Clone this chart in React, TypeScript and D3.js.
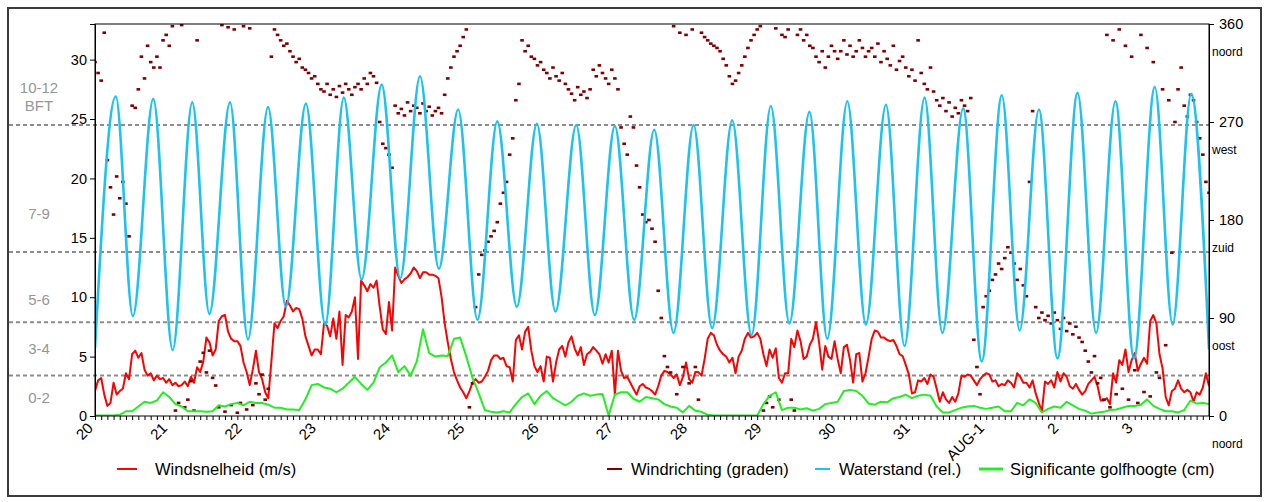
import { useEffect, useRef } from "react"
import * as d3 from "d3"

// hourly wind speed (m/s), 20 Jul 00:00 .. 4 Aug 00:00
const windSpeed = [
  2.1, 3.0, 3.2, 1.8, 0.85, 1.1, 2.8, 1.8, 2.1, 2.3, 3.6, 3.1, 5.2, 5.5, 4.9, 5.3, 3.9, 3.4, 3.6, 3.0, 3.4, 3.1, 3.2, 2.8,
  3.1, 2.6, 2.8, 2.5, 2.6, 2.9, 2.5, 3.3, 2.8, 4.1, 3.7, 4.6, 6.6, 6.2, 5.1, 5.6, 8.0, 8.4, 8.5, 7.1, 6.5, 6.3, 6.3, 5.9,
  4.5, 3.7, 2.6, 3.9, 5.5, 3.7, 3.1, 2.0, 1.5, 4.6, 7.8, 7.4, 8.0, 8.4, 9.7, 9.3, 8.8, 9.1, 9.0, 8.2, 6.7, 5.9, 5.1, 5.6,
  5.6, 5.2, 7.8, 7.6, 6.7, 8.2, 6.5, 8.8, 4.3, 8.5, 8.3, 8.8, 10.0, 4.8, 11.4, 11.0, 10.5, 11.1, 10.8, 11.4, 9.2, 7.3, 6.9, 9.6,
  7.2, 12.5, 11.8, 11.2, 11.5, 11.7, 12.0, 12.5, 12.2, 11.6, 12.1, 12.1, 11.9, 11.9, 11.8, 11.6, 10.0, 7.8, 6.2, 4.8, 3.7, 3.0, 2.4, 2.0,
  1.5, 2.1, 2.8, 3.1, 2.8, 2.9, 3.3, 3.8, 4.7, 5.1, 5.1, 4.8, 4.9, 4.2, 4.1, 2.9, 6.4, 6.8, 5.6, 7.1, 7.5, 5.5, 4.2, 3.7,
  4.2, 2.9, 5.0, 4.9, 2.9, 4.5, 5.6, 5.9, 5.0, 6.2, 6.7, 5.7, 5.1, 5.8, 4.3, 5.2, 5.4, 5.8, 5.5, 5.2, 4.4, 5.2, 4.5, 5.5,
  1.8, 5.5, 3.8, 3.2, 3.3, 2.8, 2.3, 1.8, 2.5, 2.7, 2.4, 2.3, 2.1, 1.8, 2.5, 3.4, 3.8, 3.7, 3.5, 3.2, 3.5, 2.6, 3.3, 4.5,
  3.1, 2.8, 3.7, 3.7, 3.4, 4.8, 6.5, 7.0, 6.8, 6.0, 5.5, 5.2, 5.0, 4.5, 4.9, 3.6, 5.0, 5.5, 6.5, 7.0, 6.6, 6.7, 7.0, 6.5,
  5.2, 4.2, 5.6, 4.9, 5.7, 3.2, 2.8, 3.6, 3.6, 6.5, 5.8, 7.2, 6.3, 4.8, 5.0, 6.0, 6.5, 7.9, 6.2, 3.9, 5.9, 5.0, 4.8, 6.3,
  4.8, 3.6, 5.8, 6.0, 4.7, 2.8, 5.2, 5.3, 2.9, 3.6, 5.0, 6.5, 7.2, 7.1, 6.6, 6.6, 6.4, 6.3, 6.4, 5.9, 5.2, 5.05, 4.3, 3.5,
  1.9, 2.0, 3.0, 2.9, 3.2, 2.7, 3.5, 3.3, 2.3, 1.2, 2.0, 1.4, 1.1, 1.6, 1.2, 1.9, 3.4, 3.3, 3.5, 3.4, 3.0, 2.6, 3.1, 3.4,
  3.6, 3.5, 2.9, 3.0, 2.5, 2.7, 2.6, 3.0, 2.8, 2.4, 3.6, 3.3, 2.8, 2.8, 2.4, 3.0, 1.9, 1.1, 0.4, 2.9, 2.7, 3.0, 2.4, 3.7,
  2.9, 3.6, 3.3, 2.5, 2.3, 2.7, 2.2, 1.8, 2.1, 2.7, 3.0, 3.3, 2.5, 1.3, 1.3, 1.5, 1.0, 3.6, 2.8, 4.7, 4.3, 5.6, 3.7, 4.7,
  5.3, 3.8, 4.4, 4.9, 4.4, 8.0, 8.5, 7.8, 5.2, 4.0, 1.6, 0.9, 2.1, 2.3, 3.0, 2.3, 2.0, 2.2, 2.0, 1.2, 2.0, 1.8, 2.4, 3.6, 2.5,
]

// hourly wind direction (degrees)
const windDir = [
  325, 315, 308, 352, 235, 210, 185, 220, 200, 215, 195, 165, 285, 283, 300, 330, 310, 340, 325, 320, 330, 320, 345, 350,
  340, 358, 5, 12, 359, 8, 15, 32, 5, 345, 50, 58, 40, 60, 35, 28, 8, 359, 4, 357, 10, 355, 3, 12,
  358, 6, 356, 10, 30, 20, 38, 15, 25, 330, 355, 350, 345, 340, 342, 335, 330, 325, 328, 320, 318, 315, 310, 312,
  305, 300, 298, 305, 295, 300, 293, 303, 297, 305, 300, 295, 302, 305, 300, 310, 305, 315, 312, 306, 270, 250, 246, 240,
  228, 285, 278, 282, 276, 288, 280, 285, 283, 278, 287, 280, 284, 276, 280, 283, 278, 295, 310, 320, 330, 335, 340, 348,
  355, 8, 30, 100, 130, 148, 152, 160, 165, 170, 178, 195, 205, 215, 240, 255, 290, 305, 345, 335, 340, 330, 328, 322,
  325, 318, 315, 310, 320, 312, 308, 315, 305, 300, 296, 290, 302, 295, 298, 292, 300, 318, 312, 322, 315, 310, 305, 318,
  310, 300, 265, 250, 240, 275, 265, 230, 210, 185, 178, 180, 172, 160, 115, 90, 55, 45, 40, 358, 20, 352, 45, 350,
  30, 355, 45, 15, 352, 348, 345, 342, 340, 338, 335, 328, 322, 312, 305, 308, 315, 322, 330, 338, 345, 350, 355, 358,
  5, 12, 18, 8, 356, 15, 350, 348, 355, 15, 5, 350, 355, 345, 350, 340, 338, 330, 325, 335, 320, 330, 340, 335,
  328, 335, 345, 332, 340, 330, 335, 345, 338, 330, 335, 338, 330, 342, 325, 335, 328, 322, 340, 318, 326, 330, 320, 312,
  318, 308, 345, 315, 305, 300, 320, 298, 290, 285, 292, 280, 288, 275, 283, 278, 290, 285, 280, 292, 70, 45, 20, 100,
  110, 115, 125, 130, 140, 135, 145, 155, 150, 140, 125, 135, 120, 110, 215, 280, 100, 90, 95, 88, 92, 85, 95, 88,
  80, 90, 78, 85, 75, 82, 72, 68, 60, 50, 40, 55, 30, 35, 15, 350, 8, 345, 20, 355, 25, 340, 15, 330,
  42, 12, 350, 22, 338, 18, 325, 40, 35, 300, 65, 290, 150, 270, 300, 320, 285, 275, 295, 290, 270, 255, 240, 215, 205,
]

// significant wave height, every 2 hours (left axis units)
const waveHeight = [
  0.05, 0.05, 0.05, 0.05, 0.1, 0.4, 0.4, 0.8, 1.2, 1.1, 1.3, 2.0,
  1.6, 1.0, 0.8, 0.4, 0.4, 0.4, 0.35, 0.4, 0.9, 0.8, 1.0, 1.1,
  0.9, 1.2, 1.1, 1.1, 0.95, 0.7, 0.7, 0.55, 0.55, 0.5, 1.4, 2.6,
  2.7, 2.4, 2.3, 2.0, 2.3, 2.8, 3.3, 2.7, 2.2, 2.8, 4.1, 4.5,
  5.1, 3.7, 4.2, 3.4, 4.6, 7.3, 5.3, 5.0, 5.1, 5.05, 6.5, 6.6,
  5.0, 3.2, 1.9, 0.5, 0.35, 0.3, 0.4, 0.3, 1.0, 1.6, 1.9, 1.0,
  1.7, 2.1, 1.5, 1.2, 0.9, 1.2, 1.7, 1.9, 1.7, 1.8, 1.85, 0.05,
  1.8, 2.0, 2.0, 1.45, 1.2, 1.6, 1.5, 1.4, 1.0, 0.8, 0.7, 0.3,
  0.85, 0.45, 0.35, 0.1, 0.05, 0.05, 0.05, 0.05, 0.05, 0.05, 0.05, 0.05,
  1.0, 1.7, 2.0, 0.5, 0.7, 0.7, 0.55, 0.65, 0.45, 0.6, 1.0, 1.1,
  1.2, 2.1, 2.2, 2.1, 1.7, 1.05, 0.95, 1.2, 1.15, 1.5, 1.6, 1.8,
  1.5, 1.7, 1.8, 1.7, 0.8, 0.3, 0.3, 0.5, 0.7, 0.8, 0.85, 0.7,
  0.6, 0.7, 0.8, 0.4, 0.4, 1.1, 0.9, 1.4, 1.1, 0.3, 0.6, 0.8,
  0.7, 1.2, 0.9, 0.6, 0.45, 0.2, 0.3, 0.35, 0.5, 0.55, 0.7, 0.85,
  0.85, 0.95, 1.4, 0.85, 0.6, 0.4, 0.4, 0.3, 0.5, 1.3, 1.05, 1.1, 1.0,
]

// water level: high / low water turning points (days after 20 Jul 00:00, level)
const tideDays = [
  0, 0.28, 0.51, 0.785, 1.046, 1.31, 1.54, 1.818, 2.06, 2.33, 2.57, 2.84, 3.1, 3.35, 3.59, 3.86, 4.11, 4.376, 4.63, 4.89,
  5.15, 5.417, 5.68, 5.95, 6.2, 6.48, 6.73, 7.0, 7.26, 7.53, 7.79, 8.06, 8.31, 8.58, 8.84, 9.1, 9.35, 9.62, 9.86, 10.13,
  10.38, 10.65, 10.9, 11.17, 11.41, 11.69, 11.94, 12.21, 12.45, 12.71, 12.96, 13.23, 13.48, 13.74, 13.99, 14.27, 14.51, 14.76, 15.0,
]
const tideLevels = [
  5.7, 26.9, 8.4, 26.7, 5.55, 26.4, 8.6, 26.4, 6.45, 26.0, 9.2, 26.3, 7.7, 26.8, 11.5, 27.9, 11.6, 28.6, 12.4, 25.8,
  8.1, 24.8, 9.2, 24.6, 8.8, 24.5, 8.5, 24.4, 8.1, 24.1, 7.0, 24.5, 7.4, 24.9, 6.8, 26.1, 7.8, 25.6, 6.5, 26.5,
  7.7, 26.2, 5.9, 26.8, 7.0, 25.9, 4.6, 27.0, 7.2, 25.8, 4.85, 27.2, 7.0, 26.5, 4.85, 27.7, 7.7, 27.1, 5.6,
]

const speedTicks = [0, 5, 10, 15, 20, 25, 30]
const dirTicks = [0, 90, 180, 270, 360]
const compassNames = ["noord", "oost", "zuid", "west", "noord"]
const bftBounds = [3.4, 7.9, 13.8, 24.5]
const bftLabels = ["0-2", "3-4", "5-6", "7-9", "10-12", "BFT"]
const bftLabelSpeeds = [1.5, 5.7, 9.8, 17, 27.6, 26.1]
const augustLabel = "AUG-1"

const legendItems = [
  { name: "Windsnelheid (m/s)", color: "#ff0000" },
  { name: "Windrichting (graden)", color: "#800000" },
  { name: "Waterstand (rel.)", color: "#1cc3f0" },
  { name: "Significante golfhoogte (cm)", color: "#22ee22" },
]

const W = 1269
const H = 502
const FONT = "'Liberation Sans', Arial, sans-serif"

export default function App() {
  const svgRef = useRef<SVGSVGElement>(null)

  useEffect(() => {
    if (!svgRef.current) return
    const root = d3.select(svgRef.current)
    root.selectAll("*").remove()

    const plot = { left: 95, right: 1209, top: 24, bottom: 416 }
    const start = new Date(Date.UTC(2010, 6, 20))
    const end = new Date(Date.UTC(2010, 7, 4))
    const hourDate = (h: number) => new Date(start.getTime() + h * 3600000)

    const x = d3.scaleUtc().domain([start, end]).range([plot.left, plot.right])
    const y = d3.scaleLinear().domain([0, 33]).range([plot.bottom, plot.top])
    const yDir = d3.scaleLinear().domain([0, 360]).range([plot.bottom, plot.top])

    // outer frame
    root
      .append("rect")
      .attr("x", 8)
      .attr("y", 8)
      .attr("width", 1253)
      .attr("height", 488)
      .attr("fill", "#fff")
      .attr("stroke", "#3a3a3a")
      .attr("stroke-width", 2)

    root
      .append("defs")
      .append("clipPath")
      .attr("id", "plotclip")
      .append("rect")
      .attr("x", plot.left)
      .attr("y", plot.top)
      .attr("width", plot.right - plot.left)
      .attr("height", plot.bottom - plot.top)

    // Beaufort boundaries
    root
      .append("g")
      .selectAll("line")
      .data(bftBounds)
      .enter()
      .append("line")
      .attr("x1", 9)
      .attr("x2", plot.right)
      .attr("y1", (d) => y(d))
      .attr("y2", (d) => y(d))
      .attr("stroke", "#8c8c8c")
      .attr("stroke-width", 2)
      .attr("stroke-dasharray", "4,3")

    root
      .append("g")
      .selectAll("text")
      .data(bftLabels)
      .enter()
      .append("text")
      .attr("x", 39)
      .attr("y", (_, i) => y(bftLabelSpeeds[i]))
      .attr("dy", "0.35em")
      .attr("text-anchor", "middle")
      .attr("fill", "#969696")
      .attr("font-family", FONT)
      .attr("font-size", "15px")
      .text((d) => d)

    const data = root.append("g").attr("clip-path", "url(#plotclip)")

    // wind speed
    data
      .append("path")
      .datum(windSpeed)
      .attr("fill", "none")
      .attr("stroke", legendItems[0].color)
      .attr("stroke-width", 2)
      .attr("stroke-linejoin", "round")
      .attr(
        "d",
        d3
          .line<number>()
          .x((_, i) => x(hourDate(i)))
          .y((d) => y(d)),
      )

    // wind direction dots
    data
      .append("g")
      .selectAll("rect")
      .data(windDir)
      .enter()
      .append("rect")
      .attr("x", (_, i) => x(hourDate(i)) - 1.8)
      .attr("y", (d) => yDir(d) - 1.3)
      .attr("width", 3.6)
      .attr("height", 2.6)
      .attr("fill", legendItems[1].color)

    // water level
    data
      .append("path")
      .datum(tideDays)
      .attr("fill", "none")
      .attr("stroke", legendItems[2].color)
      .attr("stroke-width", 2.6)
      .attr(
        "d",
        d3
          .line<number>()
          .x((d) => x(hourDate(d * 24)))
          .y((_, i) => y(tideLevels[i]))
          .curve(d3.curveMonotoneX),
      )

    // wave height
    data
      .append("path")
      .datum(waveHeight)
      .attr("fill", "none")
      .attr("stroke", legendItems[3].color)
      .attr("stroke-width", 2)
      .attr("stroke-linejoin", "round")
      .attr(
        "d",
        d3
          .line<number>()
          .x((_, i) => x(hourDate(i * 2)))
          .y((d) => y(d)),
      )

    // plot frame
    root
      .append("rect")
      .attr("x", plot.left)
      .attr("y", plot.top)
      .attr("width", plot.right - plot.left)
      .attr("height", plot.bottom - plot.top)
      .attr("fill", "none")
      .attr("stroke", "#000")
      .attr("stroke-width", 1)

    // left axis
    const left = root
      .append("g")
      .attr("transform", `translate(${plot.left},0)`)
      .call(d3.axisLeft(y).tickValues(speedTicks).tickSize(5).tickPadding(3))
    left.select(".domain").attr("stroke", "#000")
    left.selectAll("text").attr("font-family", FONT).attr("font-size", "14.5px").attr("fill", "#000")

    // right axis
    const right = root
      .append("g")
      .attr("transform", `translate(${plot.right},0)`)
      .call(d3.axisRight(yDir).tickValues(dirTicks).tickSize(5).tickPadding(5))
    right.selectAll("text").attr("font-family", FONT).attr("font-size", "14.5px").attr("fill", "#000")

    root
      .append("g")
      .selectAll("text")
      .data(compassNames)
      .enter()
      .append("text")
      .attr("x", plot.right + 3)
      .attr("y", (_, i) => yDir(dirTicks[i]) + 28)
      .attr("dy", "0.35em")
      .attr("font-family", FONT)
      .attr("font-size", "12px")
      .attr("fill", "#000")
      .text((d) => d)

    // bottom axis: 2-hour ticks, day labels
    const bottom = root
      .append("g")
      .attr("transform", `translate(0,${plot.bottom})`)
      .call(
        d3
          .axisBottom(x)
          .ticks(d3.utcHour.every(2))
          .tickSize(4)
          .tickFormat(() => ""),
      )
    bottom.select(".domain").remove()
    bottom.selectAll("line").attr("stroke", "#000")

    const days = d3.utcDay.range(start, end)
    root
      .append("g")
      .selectAll("text")
      .data(days)
      .enter()
      .append("text")
      .attr("transform", (d) => `translate(${x(d) - 1},${plot.bottom + 13}) rotate(-45)`)
      .attr("text-anchor", "end")
      .attr("font-family", FONT)
      .attr("font-size", "15px")
      .attr("fill", "#000")
      .text((d) => (d.getUTCDate() === 1 ? augustLabel : String(d.getUTCDate())))

    // legend
    const legendX = [117, 607, 815, 979]
    const legend = root
      .append("g")
      .selectAll("g")
      .data(legendItems)
      .enter()
      .append("g")
      .attr("transform", (_, i) => `translate(${legendX[i]},469)`)
    legend
      .append("line")
      .attr("x1", 0)
      .attr("x2", (_, i) => (i === 3 ? 24 : i === 0 ? 20 : 15))
      .attr("stroke", (d) => d.color)
      .attr("stroke-width", (_, i) => (i === 3 ? 3 : 2))
    legend
      .append("text")
      .attr("x", (_, i) => (i === 0 ? 38 : i === 3 ? 31 : 24))
      .attr("dy", "0.35em")
      .attr("font-family", FONT)
      .attr("font-size", "16.5px")
      .attr("fill", "#000")
      .text((d) => d.name)
  }, [])

  return (
    <svg
      ref={svgRef}
      width={W}
      height={H}
      style={{ position: "absolute", left: 0, top: 0, background: "#fff" }}
    />
  )
}
